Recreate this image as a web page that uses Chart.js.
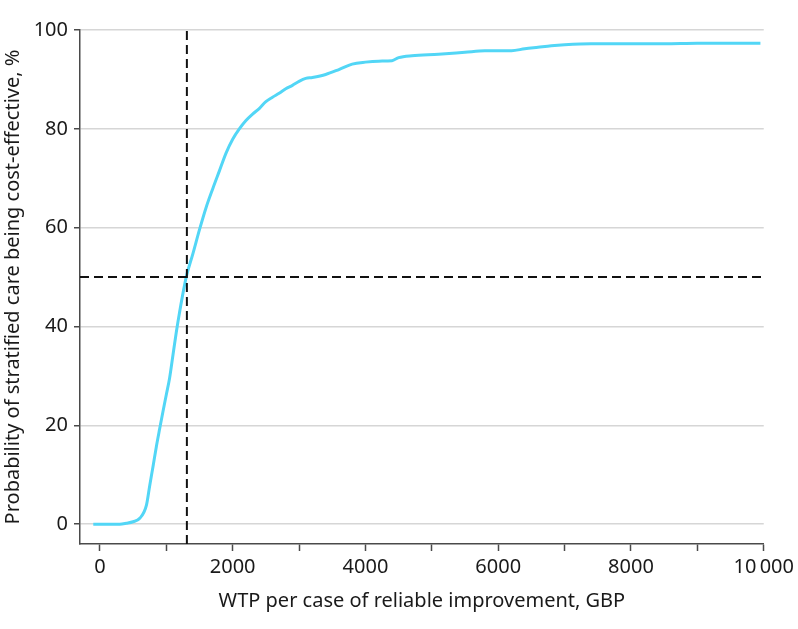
<!DOCTYPE html>
<html>
<head>
<meta charset="utf-8">
<script src="https://cdn.jsdelivr.net/npm/chart.js@4/dist/chart.umd.min.js"></script>
<style>
  html, body { margin: 0; padding: 0; background: #ffffff; }
  #wrap { width: 798px; height: 629px; position: relative; }
</style>
</head>
<body>
<div id="wrap"><canvas id="chart-ceac" width="798" height="629"></canvas></div>
<script>
// WTP per case of reliable improvement (GBP)
var wtpValues = [-100, 0, 100, 200, 300, 400, 500, 600, 700, 750, 800, 850, 900, 950,
  1000, 1050, 1100, 1150, 1200, 1300, 1400, 1500, 1600, 1700, 1800, 1900, 2000,
  2100, 2200, 2300, 2400, 2500, 2600, 2700, 2800, 2900, 3000, 3100, 3200, 3400,
  3600, 3800, 4000, 4200, 4400, 4500, 4700, 5100, 5500, 5800, 6200, 6400, 6600,
  6800, 7000, 7400, 8000, 8500, 9000, 9500, 9950];

// Probability stratified care is cost-effective (%)
var probValues = [0, 0, 0, 0, 0, 0.2, 0.5, 1.2, 3.8, 7.8, 11.7, 15.7, 19.3, 22.8,
  26.2, 29.6, 34.2, 38.8, 42.9, 50, 54.7, 59.6, 64.1, 67.9, 71.5, 75.1, 77.9,
  80.0, 81.7, 83.0, 84.1, 85.5, 86.4, 87.2, 88.1, 88.8, 89.6, 90.2, 90.4, 91,
  92, 93.1, 93.5, 93.7, 93.8, 94.4, 94.8, 95.1, 95.5, 95.8, 95.8, 96.2, 96.5,
  96.8, 97, 97.2, 97.2, 97.2, 97.3, 97.3, 97.3];

// axis ticks
var xTickValues = [0, 1000, 2000, 3000, 4000, 5000, 6000, 7000, 8000, 9000, 10000];
var yTickValues = [0, 20, 40, 60, 80, 100];

// reference lines
var thresholdWTP = 1310;
var thresholdProb = 50;

var xMin = -300, xMax = 10000;
var yMin = -4, yMax = 100;

var chart;

window.addEventListener('load', onLoad);

function onLoad(event) {
  initChart();
}

function formatWTP(value) {
  if (value % 2000 !== 0) return '';
  if (value >= 10000) return String(value).replace(/(\d)(?=(\d{3})+$)/g, '$1\u2009');
  return String(value);
}

function tickList(values) {
  return values.map(function(v) { return { value: v }; });
}

function initChart() {
  var curve = [];
  for (var i = 0; i < wtpValues.length; i++)
    curve.push({ x: wtpValues[i], y: probValues[i] });

  var fontFam = '"Noto Sans", "Open Sans", sans-serif';

  var ctx = document.getElementById("chart-ceac").getContext("2d");
  chart = new Chart(ctx, {
    type: "line",
    data: {
      datasets: [{
        label: "CEAC",
        data: curve,
        borderColor: '#52d6f6',
        borderWidth: 3,
        pointRadius: 0,
        cubicInterpolationMode: 'monotone',
        order: 1
      },
      {
        label: "WTP threshold",
        data: [{ x: thresholdWTP, y: yMin }, { x: thresholdWTP, y: yMax }],
        borderColor: '#111111',
        borderWidth: 2,
        borderDash: [9, 5],
        pointRadius: 0,
        order: 0
      },
      {
        label: "50%",
        data: [{ x: xMin, y: thresholdProb }, { x: xMax, y: thresholdProb }],
        borderColor: '#111111',
        borderWidth: 2,
        borderDash: [9, 5],
        pointRadius: 0,
        order: 0
      }]
    },
    options: {
      responsive: false,
      animation: false,
      devicePixelRatio: 1,
      layout: { padding: { left: 0, top: 30, right: 30, bottom: 0 } },
      plugins: {
        legend: { display: false },
        tooltip: { enabled: false }
      },
      scales: {
        x: {
          type: 'linear',
          min: xMin,
          max: xMax,
          afterBuildTicks: function(scale) { scale.ticks = tickList(xTickValues); },
          afterFit: function(scale) { scale.height = 85; },
          border: { display: true, color: '#4a4a4a', width: 1.5 },
          grid: {
            drawOnChartArea: false,
            drawTicks: true,
            tickLength: 7,
            tickColor: '#4a4a4a',
            tickWidth: 1.5
          },
          ticks: {
            autoSkip: false,
            maxRotation: 0,
            padding: 4,
            color: '#1a1a1a',
            font: { family: fontFam, size: 20 },
            callback: function(value) { return formatWTP(value); }
          },
          title: {
            display: true,
            text: 'WTP per case of reliable improvement, GBP',
            color: '#1a1a1a',
            font: { family: fontFam, size: 20 },
            padding: { top: 0, bottom: 16 }
          }
        },
        y: {
          type: 'linear',
          min: yMin,
          max: yMax,
          afterBuildTicks: function(scale) { scale.ticks = tickList(yTickValues); },
          afterFit: function(scale) { scale.width = 80; },
          border: { display: true, color: '#4a4a4a', width: 1.5 },
          grid: {
            color: '#d6d6d6',
            lineWidth: 1.5,
            drawTicks: true,
            tickLength: 6,
            tickColor: '#4a4a4a',
            tickWidth: 1.5
          },
          ticks: {
            padding: 6,
            color: '#1a1a1a',
            font: { family: fontFam, size: 20 }
          },
          title: {
            display: true,
            text: 'Probability of stratified care being cost-effective, %',
            color: '#1a1a1a',
            font: { family: fontFam, size: 20 },
            padding: { top: 1, bottom: 0 }
          }
        }
      }
    }
  });
}
</script>
</body>
</html>
